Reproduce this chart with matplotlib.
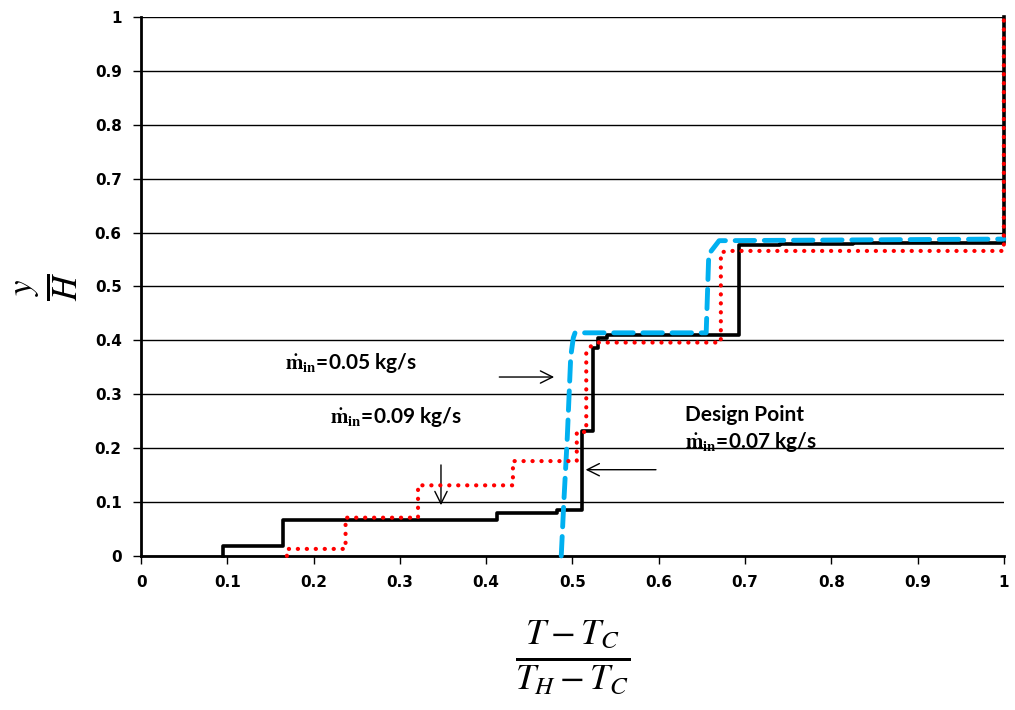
import matplotlib
matplotlib.use('Agg')
import matplotlib.pyplot as plt
from matplotlib.ticker import MultipleLocator, FuncFormatter

plt.rcParams['font.family'] = ['Lato', 'DejaVu Sans']
plt.rcParams['mathtext.fontset'] = 'stix'

# design point, m_in = 0.07 kg/s (black solid)
design_x = [0.095, 0.095, 0.165, 0.165, 0.412, 0.412, 0.482, 0.482, 0.511, 0.511,
            0.524, 0.524, 0.530, 0.530, 0.540, 0.540, 0.693, 0.693, 0.740, 0.740,
            0.825, 0.825, 1.0, 1.0]
design_y = [0.0, 0.019, 0.019, 0.066, 0.066, 0.080, 0.080, 0.086, 0.086, 0.232,
            0.232, 0.385, 0.385, 0.404, 0.404, 0.410, 0.410, 0.577, 0.577, 0.579,
            0.579, 0.580, 0.580, 1.0]

# m_in = 0.09 kg/s (red dotted)
high_x = [0.169, 0.169, 0.237, 0.237, 0.321, 0.321, 0.431, 0.431, 0.505, 0.505,
          0.516, 0.516, 0.522, 0.530, 0.672, 0.672, 0.680, 1.0, 1.0]
high_y = [0.0, 0.013, 0.013, 0.071, 0.071, 0.131, 0.131, 0.176, 0.176, 0.230,
          0.230, 0.380, 0.390, 0.396, 0.396, 0.563, 0.566, 0.566, 1.0]

# m_in = 0.05 kg/s (blue dashed)
low_x = [0.487, 0.490, 0.494, 0.498, 0.501, 0.503, 0.655, 0.658, 0.670, 1.0]
low_y = [0.0, 0.100, 0.220, 0.370, 0.405, 0.414, 0.414, 0.560, 0.585, 0.588]

fig = plt.figure(figsize=(10.15, 7.1), dpi=100)
ax = fig.add_axes([0.139, 0.217, 0.85, 0.759])

ax.plot(design_x, design_y, color='black', lw=2.6, zorder=3, clip_on=False)
ax.plot(low_x, low_y, color='#00B0F0', lw=3.5, linestyle=(0, (4, 2)),
        dash_capstyle='round', zorder=4, clip_on=False)
ax.plot(high_x, high_y, color='red', lw=3.0, linestyle=(0, (0.05, 2.1)),
        dash_capstyle='round', zorder=5, clip_on=False)

ax.set_xlim(0, 1)
ax.set_ylim(0, 1)
ax.xaxis.set_major_locator(MultipleLocator(0.1))
ax.yaxis.set_major_locator(MultipleLocator(0.1))
fmt = FuncFormatter(lambda v, p: '%g' % round(v, 2))
ax.xaxis.set_major_formatter(fmt)
ax.yaxis.set_major_formatter(fmt)
ax.grid(axis='y', color='black', lw=1.0)
ax.set_axisbelow(True)
for s in ['top', 'right']:
    ax.spines[s].set_visible(False)
for s in ['left', 'bottom']:
    ax.spines[s].set_linewidth(2)
ax.tick_params(direction='out', length=6, width=1, pad=8)
for lab in ax.get_xticklabels() + ax.get_yticklabels():
    lab.set_fontweight('bold')
    lab.set_fontfamily('DejaVu Sans')
    lab.set_fontsize(11)

ax.set_xlabel(r'$\frac{T-T_C}{T_H-T_C}$', fontsize=37, labelpad=20)
ax.set_ylabel(r'$\frac{y}{H}$', fontsize=36, labelpad=10)

tk = dict(fontsize=15, fontweight='bold', va='center', ha='left')
ax.text(0.167, 0.358, r'$\mathbf{\dot{m}_{in}}$=0.05 kg/s', **tk)
ax.text(0.219, 0.258, r'$\mathbf{\dot{m}_{in}}$=0.09 kg/s', **tk)
ax.text(0.630, 0.262, 'Design Point', **tk)
ax.text(0.630, 0.212, r'$\mathbf{\dot{m}_{in}}$=0.07 kg/s', **tk)

arr = dict(arrowstyle='->', color='black', lw=1, mutation_scale=22)
ax.annotate('', xy=(0.482, 0.332), xytext=(0.412, 0.332), arrowprops=arr)
ax.annotate('', xy=(0.3476, 0.089), xytext=(0.3476, 0.174), arrowprops=arr)
ax.annotate('', xy=(0.512, 0.160), xytext=(0.600, 0.160), arrowprops=arr)

fig.savefig('out.png', dpi=100)
